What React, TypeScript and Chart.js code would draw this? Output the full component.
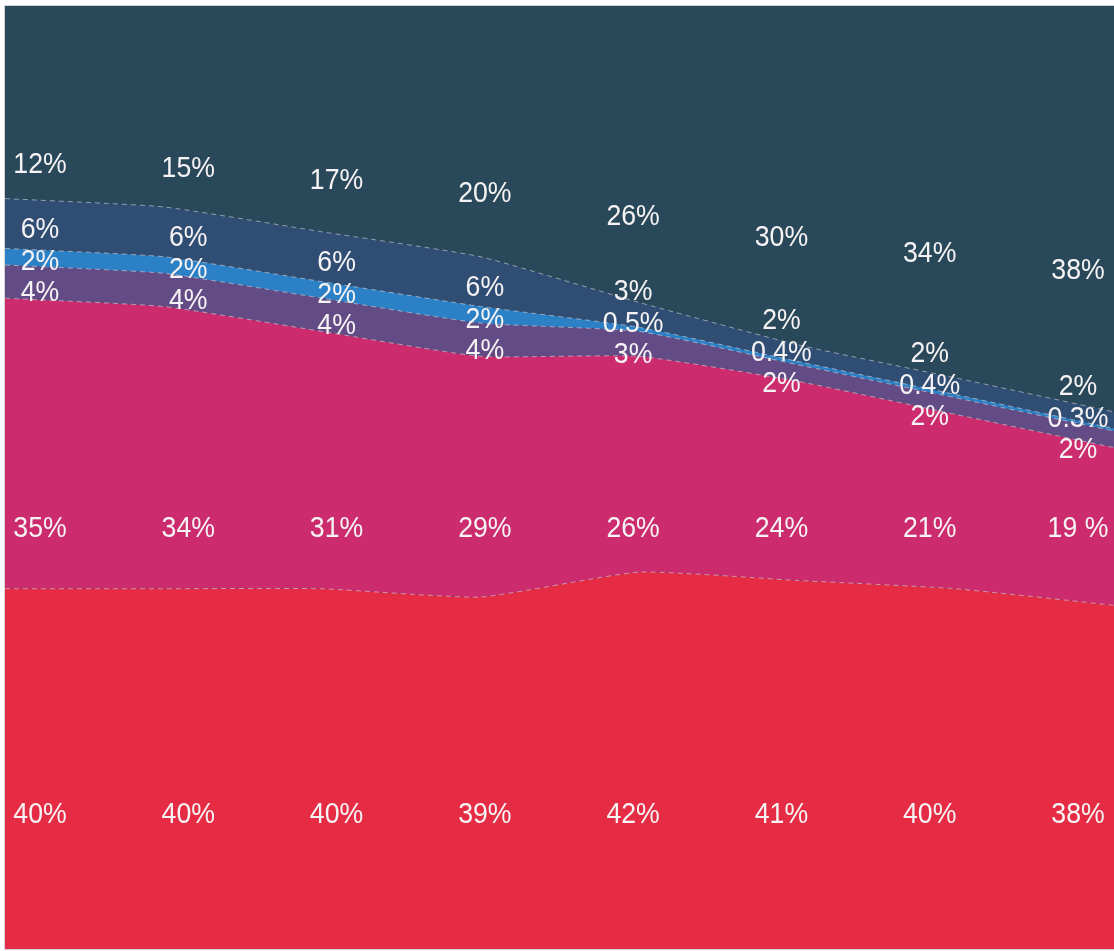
import React, { useEffect, useRef } from "react";
import { Chart, registerables } from "chart.js";

Chart.register(...registerables);

// Data (percent shares), bottom of the stack first
const categories = ["P1", "P2", "P3", "P4", "P5", "P6", "P7", "P8"];
const redValues = [40, 40, 40, 39, 42, 41, 40, 38];
const magentaValues = [35, 34, 31, 29, 26, 24, 21, 19];
const purpleValues = [4, 4, 4, 4, 3, 2, 2, 2];
const blueValues = [2, 2, 2, 2, 0.5, 0.4, 0.4, 0.3];
const navyValues = [6, 6, 6, 6, 3, 2, 2, 2];
const darkValues = [12, 15, 17, 20, 26, 30, 34, 38];
const magentaLabels = ["35%", "34%", "31%", "29%", "26%", "24%", "21%", "19 %"];

const COLORS = {
  red: "#e52c44",
  magenta: "#cc2b6e",
  purple: "#634c86",
  blue: "#2b80c6",
  navy: "#304e73",
  dark: "#294859",
};

const fmt = (v: number) => `${v}%`;

const labelPlugin = {
  id: "bandLabels",
  beforeDatasetsDraw(chart: any) {
    const { ctx, chartArea } = chart;
    ctx.save();
    ctx.fillStyle = COLORS.dark;
    ctx.fillRect(chartArea.left, chartArea.top, chartArea.right - chartArea.left, chartArea.bottom - chartArea.top);
    ctx.restore();
  },
  afterDatasetsDraw(chart: any) {
    const { ctx, chartArea, scales } = chart;
    const ys = scales.y;
    const drawText = (text: string, x: number, y: number) => {
      ctx.save();
      ctx.translate(x, y);
      ctx.scale(0.92, 1);
      ctx.fillText(text, 0, 0);
      ctx.restore();
    };
    ctx.save();
    ctx.fillStyle = "#f6f3f4";
    ctx.font = "29px 'Liberation Sans', Arial, sans-serif";
    ctx.textAlign = "center";
    ctx.textBaseline = "middle";
    const x0 = chartArea.left + 35;
    const x1 = chartArea.right - 36;
    const n = categories.length;
    categories.forEach((_, i) => {
      const x = x0 + (i * (x1 - x0)) / (n - 1);
      const c1 = redValues[i];
      const c2 = c1 + magentaValues[i];
      const c3 = c2 + purpleValues[i];
      const c4 = c3 + blueValues[i];
      const c5 = c4 + navyValues[i];
      // red and magenta labels on fixed rows
      drawText(fmt(redValues[i]), x, ys.getPixelForValue(13) + 2);
      drawText(magentaLabels[i], x, ys.getPixelForValue(47.5) + 3);
      // small bands: centered, pushed apart
      const pY = ys.getPixelForValue((c2 + c3) / 2) + 11;
      const bY = Math.min(ys.getPixelForValue((c3 + c4) / 2) + 11, pY - 31);
      const nY = Math.min(ys.getPixelForValue((c4 + c5) / 2) + 11, bY - 32);
      drawText(fmt(purpleValues[i]), x, pY);
      drawText(fmt(blueValues[i]), x, bY);
      drawText(fmt(navyValues[i]), x, nY);
      // top band
      const dY = ys.getPixelForValue((c5 + 100) / 2) + 20;
      drawText(fmt(darkValues[i]), x, dY);
    });
    ctx.restore();
  },
  afterDraw(chart: any) {
    const { ctx, chartArea } = chart;
    ctx.save();
    ctx.strokeStyle = "rgba(200,200,200,0.8)";
    ctx.lineWidth = 1;
    ctx.strokeRect(chartArea.left - 0.5, chartArea.top - 0.5, chartArea.right - chartArea.left + 1, chartArea.bottom - chartArea.top + 1);
    ctx.restore();
  },
};

export default function App() {
  const canvasRef = useRef<HTMLCanvasElement | null>(null);

  useEffect(() => {
    if (!canvasRef.current) return;
    const dash = [5, 4];
    const lineColor = "rgba(235,225,235,0.55)";
    const mk = (label: string, data: number[], color: string, fill: any, border = true) => ({
      label,
      data,
      backgroundColor: color,
      borderColor: lineColor,
      borderWidth: border ? 1 : 0,
      borderDash: dash,
      pointRadius: 0,
      fill,
      tension: 0.15,
    });
    const chart = new Chart(canvasRef.current, {
      type: "line",
      data: {
        labels: categories,
        datasets: [
          mk("Red", redValues, COLORS.red, "start"),
          mk("Magenta", magentaValues, COLORS.magenta, "-1"),
          mk("Purple", purpleValues, COLORS.purple, "-1"),
          mk("Blue", blueValues, COLORS.blue, "-1"),
          mk("Navy", navyValues, COLORS.navy, "-1"),
          mk("Dark", darkValues, COLORS.dark, "-1", false),
        ],
      },
      options: {
        animation: false,
        responsive: false,
        maintainAspectRatio: false,
        layout: { padding: { left: 5, top: 6, right: 0, bottom: 2 } },
        plugins: {
          legend: { display: false },
          tooltip: { enabled: false },
          title: { display: false },
        },
        scales: {
          x: { display: false, offset: false },
          y: { display: false, stacked: true, min: -3.4, max: 110.2 },
        },
      },
      plugins: [labelPlugin],
    });
    return () => chart.destroy();
  }, []);

  return (
    <div style={{ position: "fixed", left: 0, top: 0, width: 1114, height: 951, background: "#fff" }}>
      <canvas ref={canvasRef} width={1114} height={951} style={{ display: "block" }} />
    </div>
  );
}
